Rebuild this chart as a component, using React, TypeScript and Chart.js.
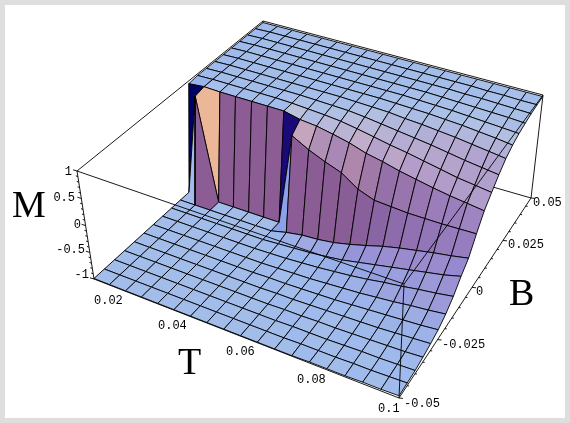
import React, { useEffect, useRef } from "react";
import { Chart, registerables } from "chart.js";

Chart.register(...registerables);

const tValues = [0.02, 0.0244, 0.0289, 0.0333, 0.0378, 0.0422, 0.0467, 0.0511, 0.0556, 0.06, 0.0644, 0.0689, 0.0733, 0.0778, 0.0822, 0.0867, 0.0911, 0.0956, 0.1];
const bValues = [-0.05, -0.045, -0.04, -0.035, -0.03, -0.025, -0.02, -0.015, -0.01, -0.005, 0, 0.005, 0.01, 0.015, 0.02, 0.025, 0.03, 0.035, 0.04, 0.045, 0.05];

const m00 = [-0.99, -0.99, -0.99, -0.99, -0.99, -0.99, -0.99, -0.99, -0.99, -0.99, -0.99, -0.99, -0.99, -0.98, -0.98, -0.98, -0.97, -0.97, -0.96];
const m01 = [-0.99, -0.99, -0.99, -0.99, -0.99, -0.99, -0.99, -0.99, -0.99, -0.99, -0.99, -0.99, -0.98, -0.98, -0.98, -0.97, -0.97, -0.96, -0.95];
const m02 = [-0.99, -0.99, -0.99, -0.99, -0.99, -0.99, -0.99, -0.99, -0.99, -0.99, -0.99, -0.98, -0.98, -0.98, -0.97, -0.96, -0.96, -0.95, -0.94];
const m03 = [-0.99, -0.99, -0.99, -0.99, -0.99, -0.99, -0.99, -0.99, -0.99, -0.99, -0.98, -0.98, -0.97, -0.97, -0.96, -0.95, -0.94, -0.93, -0.91];
const m04 = [-0.99, -0.99, -0.99, -0.99, -0.99, -0.99, -0.99, -0.99, -0.99, -0.98, -0.98, -0.97, -0.96, -0.95, -0.94, -0.93, -0.91, -0.89, -0.87];
const m05 = [-0.99, -0.99, -0.99, -0.99, -0.99, -0.99, -0.99, -0.99, -0.98, -0.98, -0.97, -0.96, -0.95, -0.93, -0.91, -0.89, -0.87, -0.85, -0.82];
const m06 = [-0.99, -0.99, -0.99, -0.99, -0.99, -0.99, -0.99, -0.99, -0.98, -0.97, -0.96, -0.94, -0.92, -0.9, -0.87, -0.84, -0.8, -0.77, -0.73];
const m07 = [-0.99, -0.99, -0.99, -0.99, -0.99, -0.99, -0.99, -0.98, -0.97, -0.95, -0.93, -0.9, -0.87, -0.83, -0.78, -0.74, -0.69, -0.65, -0.6];
const m08 = [-0.99, -0.99, -0.99, -0.99, -0.99, -0.99, -0.99, -0.97, -0.95, -0.93, -0.9, -0.86, -0.8, -0.74, -0.68, -0.62, -0.56, -0.5, -0.42];
const m09 = [-0.99, -0.99, -0.99, -0.99, -0.99, -0.99, -0.99, -0.92, -0.87, -0.85, -0.81, -0.74, -0.66, -0.57, -0.5, -0.44, -0.38, -0.33, -0.27];
const m10 = [-0.99, 0.94, -0.99, -0.99, -0.99, -0.99, -0.99, 0.75, 0.58, 0.45, 0.34, 0.13, 0.02, 0, -0.02, -0.02, -0.02, -0.01, 0];
const m11 = [0.95, 0.98, 0.97, 0.97, 0.97, 0.97, 0.97, 0.9, 0.87, 0.81, 0.74, 0.64, 0.58, 0.5, 0.44, 0.38, 0.33, 0.29, 0.25];
const m12 = [0.97, 0.98, 0.98, 0.98, 0.98, 0.98, 0.97, 0.95, 0.93, 0.9, 0.85, 0.79, 0.73, 0.68, 0.62, 0.56, 0.5, 0.46, 0.42];
const m13 = [0.97, 0.98, 0.98, 0.98, 0.98, 0.98, 0.98, 0.97, 0.96, 0.95, 0.92, 0.88, 0.84, 0.8, 0.76, 0.71, 0.66, 0.62, 0.58];
const m14 = [0.97, 0.98, 0.98, 0.98, 0.98, 0.98, 0.98, 0.98, 0.98, 0.97, 0.96, 0.95, 0.92, 0.9, 0.87, 0.84, 0.8, 0.76, 0.72];
const m15 = [0.97, 0.98, 0.98, 0.98, 0.98, 0.98, 0.98, 0.98, 0.98, 0.98, 0.98, 0.97, 0.96, 0.95, 0.93, 0.91, 0.88, 0.85, 0.81];
const m16 = [0.97, 0.98, 0.98, 0.98, 0.98, 0.98, 0.98, 0.98, 0.98, 0.98, 0.98, 0.98, 0.97, 0.96, 0.95, 0.93, 0.91, 0.89, 0.87];
const m17 = [0.97, 0.98, 0.98, 0.98, 0.98, 0.98, 0.98, 0.98, 0.98, 0.98, 0.98, 0.98, 0.98, 0.97, 0.96, 0.95, 0.94, 0.93, 0.91];
const m18 = [0.97, 0.98, 0.98, 0.98, 0.98, 0.98, 0.98, 0.98, 0.98, 0.98, 0.98, 0.98, 0.98, 0.98, 0.97, 0.97, 0.96, 0.95, 0.94];
const m19 = [0.97, 0.98, 0.98, 0.98, 0.98, 0.98, 0.98, 0.98, 0.98, 0.98, 0.98, 0.98, 0.98, 0.98, 0.98, 0.97, 0.97, 0.96, 0.96];
const m20 = [0.97, 0.97, 0.97, 0.97, 0.97, 0.97, 0.97, 0.97, 0.97, 0.97, 0.97, 0.97, 0.97, 0.97, 0.97, 0.97, 0.97, 0.97, 0.97];
const magnetisation = [m00, m01, m02, m03, m04, m05, m06, m07, m08, m09, m10, m11, m12, m13, m14, m15, m16, m17, m18, m19, m20];

const mTickLabels = ["1", "0.5", "0", "-0.5", "-1"];
const tTickLabels = ["0.02", "0.04", "0.06", "0.08", "0.1"];
const bTickLabels = ["-0.05", "-0.025", "0", "0.025", "0.05"];

// Projection of the plot box on the page
const CORNERS: Record<string, [number, number]> = {
  "000": [94, 279], "100": [399, 398], "010": [267, 122], "110": [531, 198],
  "001": [77, 171], "101": [404, 284], "011": [263, 21], "111": [543, 95],
};
const DEPTH = { u: -0.075, v: 0.22, m: -0.02 };

function project(T: number, B: number, M: number) {
  const u = (T - 0.02) / 0.08, v = (B + 0.05) / 0.1, m = (M + 1) / 2;
  let X = 0, Y = 0, W = 0;
  for (const a of [0, 1]) for (const b of [0, 1]) for (const c of [0, 1]) {
    const w = (a ? u : 1 - u) * (b ? v : 1 - v) * (c ? m : 1 - m);
    const h = 1 + DEPTH.u * a + DEPTH.v * b + DEPTH.m * c;
    const p = CORNERS[`${a}${b}${c}`];
    X += w * h * p[0]; Y += w * h * p[1]; W += w * h;
  }
  return { x: X / W, y: Y / W };
}

// Shading: a ramp on how much the facet faces up, tinted by its slope along T
const RAMP: [number, number, number, number][] = [
  [0, 140, 90, 145],
  [0.12, 140, 95, 150],
  [0.3, 155, 125, 185],
  [0.57, 168, 150, 205],
  [1, 163, 189, 235],
];
const TINT = [50, 33, -15];
const RELIEF = 8;
const OVERRIDES: Record<string, string> = {
  "0,10": "rgb(0,0,100)",
  "6,10": "rgb(25,10,120)",
  "1,10": "rgb(236,183,150)",
};

function facetColor(i: number, j: number) {
  const key = `${i},${j}`;
  if (OVERRIDES[key]) return OVERRIDES[key];
  const a = magnetisation[j][i];
  const nx = -RELIEF * (magnetisation[j][i + 1] - a);
  const ny = -RELIEF * (magnetisation[j + 1][i] - a);
  const len = Math.hypot(nx, ny, 1);
  const up = 1 / len, side = nx / len;
  let k = 0;
  while (k < RAMP.length - 2 && up > RAMP[k + 1][0]) k++;
  const t = (up - RAMP[k][0]) / (RAMP[k + 1][0] - RAMP[k][0]);
  const ch = (c: number) =>
    Math.round(Math.min(255, Math.max(0, RAMP[k][c + 1] + t * (RAMP[k + 1][c + 1] - RAMP[k][c + 1]) + side * TINT[c])));
  return `rgb(${ch(0)},${ch(1)},${ch(2)})`;
}

function line(points: { x: number; y: number }[], w = 0.9) {
  return { data: points, showLine: true, borderColor: "#000", borderWidth: w, pointRadius: 0, fill: false, tension: 0, clip: false as const };
}

function buildDatasets() {
  const painted: any[] = [];
  const Tn = 0.02, Tx = 0.1, Bn = -0.05, Bx = 0.05;
  // Edges behind the surface
  painted.push(line([project(Tn, Bx, -1), project(Tx, Bx, -1)]));
  painted.push(line([project(Tn, Bn, -1), project(Tn, Bx, -1), project(Tn, Bx, 1)]));
  painted.push(line([project(Tx, Bx, -1), project(Tx, Bx, 1)]));
  painted.push(line([project(Tn, Bn, 1), project(Tn, Bx, 1), project(Tx, Bx, 1)]));
  // Surface, far cells first
  for (let j = bValues.length - 2; j >= 0; j--) {
    for (let i = 0; i < tValues.length - 1; i++) {
      const corner = (a: number, b: number) => project(tValues[a], bValues[b], magnetisation[b][a]);
      const p0 = corner(i, j);
      painted.push({
        data: [p0, corner(i + 1, j), corner(i + 1, j + 1), corner(i, j + 1), p0],
        showLine: true, borderColor: "#000", borderWidth: 0.9, pointRadius: 0, tension: 0,
        fill: "shape", backgroundColor: facetColor(i, j), clip: false as const,
      });
    }
  }
  // Edges in front of the surface
  painted.push(line([project(Tn, Bn, 1), project(Tx, Bn, 1), project(Tx, Bx, 1)]));
  painted.push(line([project(Tn, Bn, -1), project(Tx, Bn, -1), project(Tx, Bx, -1)]));
  painted.push(line([project(Tx, Bn, -1), project(Tx, Bn, 1)]));
  painted.push(line([project(Tn, Bn, -1), project(Tn, Bn, 1)]));
  // Axis tick marks
  for (let k = 0; k <= 20; k++) {
    const M = -1 + k * 0.1;
    const p = project(Tn, Bn, M);
    const len = k % 5 === 0 ? 4 : 2;
    painted.push(line([p, { x: p.x - len, y: p.y - 0.3 * len }]));
  }
  for (let k = 0; k <= 20; k++) {
    const p = project(Tx, bValues[k], -1);
    const len = k % 5 === 0 ? 4 : 2;
    painted.push(line([p, { x: p.x + len, y: p.y + 0.1 * len }]));
  }
  return painted.reverse(); // Chart.js paints the first dataset last
}

// Text anchors: [left or right x, baseline y]
const M_TEXT: [number, number][] = [[72, 175], [75, 201], [81, 228], [85, 253], [89, 278]];
const T_TEXT: [number, number][] = [[94, 304], [158, 329], [226, 355], [297, 383], [378, 412]];
const B_TEXT: [number, number][] = [[404, 407], [442, 348], [476, 295], [508, 248], [533, 206]];

const textPlugin = {
  id: "boxText",
  afterDatasetsDraw(chart: any) {
    const { ctx, scales } = chart;
    const at = (x: number, y: number) => [scales.x.getPixelForValue(x), scales.y.getPixelForValue(y)];
    ctx.save();
    ctx.fillStyle = "#000";
    ctx.textBaseline = "alphabetic";
    ctx.font = '12px "Liberation Mono"';
    ctx.textAlign = "right";
    mTickLabels.forEach((s, k) => { const [x, y] = at(M_TEXT[k][0], M_TEXT[k][1]); ctx.fillText(s, x, y); });
    ctx.textAlign = "left";
    tTickLabels.forEach((s, k) => { const [x, y] = at(T_TEXT[k][0], T_TEXT[k][1]); ctx.fillText(s, x, y); });
    bTickLabels.forEach((s, k) => { const [x, y] = at(B_TEXT[k][0], B_TEXT[k][1]); ctx.fillText(s, x, y); });
    ctx.font = '38px "Liberation Serif"';
    for (const [s, x0, y0] of [["M", 12, 217], ["T", 178, 374], ["B", 509, 305]] as [string, number, number][]) {
      const [x, y] = at(x0, y0);
      ctx.fillText(s, x, y);
    }
    ctx.restore();
  },
};

export default function App() {
  const ref = useRef<HTMLCanvasElement>(null);
  useEffect(() => {
    const chart = new Chart(ref.current as HTMLCanvasElement, {
      type: "scatter",
      data: { datasets: buildDatasets() },
      options: {
        animation: false,
        responsive: false,
        layout: { padding: 0 },
        plugins: { legend: { display: false }, tooltip: { enabled: false } },
        scales: {
          x: { type: "linear", display: false, min: 5, max: 565 },
          y: { type: "linear", display: false, min: 5, max: 418, reverse: true },
        },
      },
      plugins: [textPlugin],
    } as any);
    return () => chart.destroy();
  }, []);
  return (
    <div style={{ position: "absolute", left: 0, top: 0, width: 560, height: 413, border: "5px solid #dedede", background: "#fff" }}>
      <canvas ref={ref} width={560} height={413} style={{ display: "block" }} />
    </div>
  );
}
